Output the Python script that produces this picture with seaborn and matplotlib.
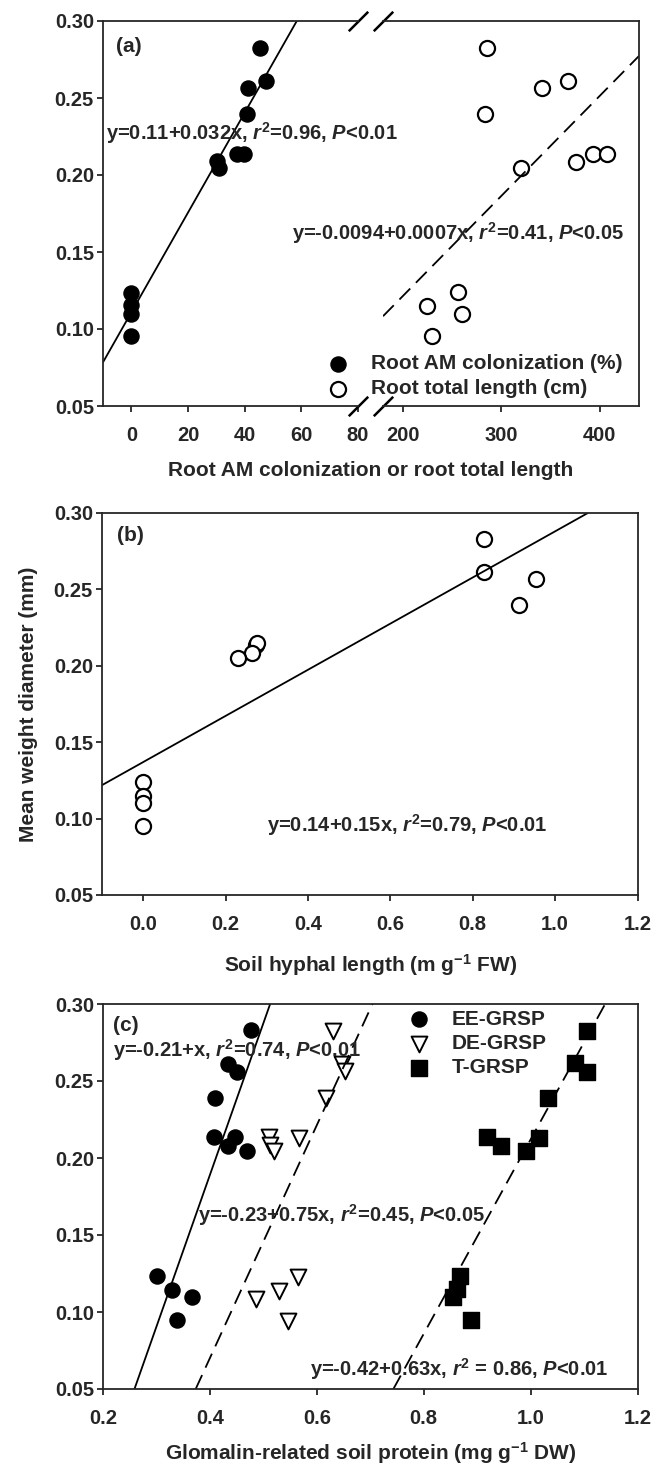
import pandas as pd
import matplotlib
matplotlib.use('Agg')
import matplotlib.pyplot as plt
import seaborn as sns

sns.set_style('ticks')
plt.rcParams['font.family'] = ['Liberation Sans', 'DejaVu Sans']
plt.rcParams['font.weight'] = 'bold'
plt.rcParams['axes.labelweight'] = 'bold'
plt.rcParams['mathtext.fontset'] = 'custom'
plt.rcParams['mathtext.rm'] = 'Liberation Sans:bold'
plt.rcParams['mathtext.it'] = 'Liberation Sans:italic:bold'
plt.rcParams['mathtext.bf'] = 'Liberation Sans:bold'

# ---- panel (a): root AM colonization (%) and root total length (cm)
am_col = [45.4, 47.6, 41.0, 40.7, 39.9, 37.4, 30.4, 31.1, 0, 0, 0, 0]
am_mwd = [0.2827, 0.2613, 0.2563, 0.2394, 0.2139, 0.2134, 0.2090, 0.2043, 0.1236, 0.1156, 0.1100, 0.0957]
root_len = [285.4, 367.7, 341.4, 284.1, 393.2, 407.6, 376.2, 319.7, 256.1, 224.6, 259.9, 230.1]
root_mwd = [0.2827, 0.2613, 0.2563, 0.2396, 0.2136, 0.2134, 0.2082, 0.2043, 0.1238, 0.1152, 0.1100, 0.0957]
fit_am = (0.1108, 0.00324)      # intercept, slope as drawn
fit_len = (-0.0087, 0.00065)

# ---- panel (b): soil hyphal length
hyphal = [0.827, 0.827, 0.954, 0.913, 0.274, 0.276, 0.263, 0.2305, 0, 0, 0, 0]
hyphal_mwd = [0.2830, 0.2615, 0.2567, 0.2398, 0.2139, 0.2148, 0.2083, 0.2050, 0.1239, 0.1148, 0.1104, 0.0952]
fit_hyphal = (0.137, 0.151)

# ---- panel (c): glomalin-related soil protein
ee = [0.477, 0.433, 0.450, 0.409, 0.407, 0.447, 0.433, 0.469, 0.3016, 0.3297, 0.3656, 0.339]
ee_mwd = [0.2830, 0.2609, 0.2561, 0.2391, 0.2135, 0.2135, 0.2076, 0.2048, 0.1235, 0.1146, 0.1098, 0.0950]
de = [0.630, 0.647, 0.653, 0.618, 0.510, 0.566, 0.5125, 0.520, 0.564, 0.530, 0.486, 0.547]
de_mwd = [0.2822, 0.2613, 0.2565, 0.2391, 0.2135, 0.2130, 0.2087, 0.2043, 0.1228, 0.1135, 0.1087, 0.0939]
tg = [1.106, 1.083, 1.106, 1.032, 0.919, 1.015, 0.945, 0.991, 0.868, 0.862, 0.854, 0.889]
tg_mwd = [0.2826, 0.2615, 0.2559, 0.2391, 0.2135, 0.2130, 0.2080, 0.2043, 0.1235, 0.1148, 0.1098, 0.0950]
fit_ee = (-0.205, 0.985)
fit_de = (-0.2323, 0.756)
fit_tg = (-0.419, 0.631)

y_ticks = [0.05, 0.10, 0.15, 0.20, 0.25, 0.30]

W, H = 654, 1468
fig = plt.figure(figsize=(W / 100, H / 100), dpi=100)


def box(l, t, r, b):
    return [l / W, 1 - b / H, (r - l) / W, (b - t) / H]


ax_al = fig.add_axes(box(103, 21, 358, 406))
ax_ar = fig.add_axes(box(383, 21, 639, 406))
ax_b = fig.add_axes(box(102, 513, 637.5, 895))
ax_c = fig.add_axes(box(103, 1004, 637.5, 1389))

MS = 118
DASH = (0, (8.5, 4.5))
TXT = 14.5   # annotations
LAB = 15     # axis labels / legends
TICK = 14.5


def style(ax):
    for sp in ax.spines.values():
        sp.set_linewidth(1.3)
    ax.tick_params(direction='out', length=4.5, width=1.3, labelsize=TICK, pad=2)
    ax.tick_params(axis='x', pad=10)
    ax.set_ylim(0.05, 0.30)
    ax.set_yticks(y_ticks)
    ax.set_yticklabels([f'{v:.2f}' for v in y_ticks])
    ax.set_xlabel('')
    ax.set_ylabel('')


# panel (a)
df_am = pd.DataFrame({'x': am_col, 'y': am_mwd})
df_len = pd.DataFrame({'x': root_len, 'y': root_mwd})
sns.scatterplot(data=df_am, x='x', y='y', ax=ax_al, color='black', edgecolor='black',
                s=MS, linewidth=1, label='Root AM colonization (%)', legend=False)
sns.scatterplot(data=df_len, x='x', y='y', ax=ax_ar, color='white', edgecolor='black',
                s=MS, linewidth=1.6, label='Root total length (cm)', legend=False)
ax_al.axline((0, fit_am[0]), slope=fit_am[1], color='black', lw=1.3)
ax_ar.axline((0, fit_len[0]), slope=fit_len[1], color='black', lw=1.3, linestyle=DASH)
ax_al.set_xlim(-10, 80)
ax_ar.set_xlim(180, 440)
style(ax_al)
style(ax_ar)
ax_al.set_xticks([0, 20, 40, 60, 80])
ax_ar.set_xticks([200, 300, 400])
ax_al.spines['right'].set_visible(False)
ax_ar.spines['left'].set_visible(False)
ax_ar.tick_params(left=False, labelleft=False)
ax_ar.patch.set_visible(False)

brk = dict(marker=[(-1, -1), (1, 1)], markersize=14, linestyle='none',
           color='black', mec='black', mew=1.8, clip_on=False)
ax_al.plot([1, 1], [0, 1], transform=ax_al.transAxes, **brk)
ax_ar.plot([0, 0], [0, 1], transform=ax_ar.transAxes, **brk)

ax_al.text(-5.3, 0.2833, '(a)', fontsize=LAB, va='center')
ax_al.text(-9.0, 0.227, r'y=0.11+0.032x, $\mathit{r}^{\mathbf{2}}$=0.96, $\mathit{P}$<0.01',
           fontsize=TXT, va='center')
ax_ar.text(424.6, 0.162, r'y=-0.0094+0.0007x, $\mathit{r}^{\mathbf{2}}$=0.41, $\mathit{P}$<0.05',
           fontsize=TXT, va='center', ha='right')
handles = ax_al.collections[:1] + ax_ar.collections[:1]
ax_al.legend(handles, [h.get_label() for h in handles], loc='lower left',
             bbox_to_anchor=(0.88, 0.02), frameon=False, fontsize=LAB,
             handlelength=1.0, handletextpad=1.1, labelspacing=0.3, borderpad=0,
             borderaxespad=0)
fig.text(371 / W, 1 - 470 / H, 'Root AM colonization or root total length',
         fontsize=LAB, ha='center', va='center')

# panel (b)
df_b = pd.DataFrame({'x': hyphal, 'y': hyphal_mwd})
sns.scatterplot(data=df_b, x='x', y='y', ax=ax_b, color='white', edgecolor='black',
                s=MS, linewidth=1.6, legend=False)
ax_b.axline((0, fit_hyphal[0]), slope=fit_hyphal[1], color='black', lw=1.3)
ax_b.set_xlim(-0.1, 1.2)
style(ax_b)
ax_b.set_xticks([0.0, 0.2, 0.4, 0.6, 0.8, 1.0, 1.2])
ax_b.set_xticklabels(['0.0', '0.2', '0.4', '0.6', '0.8', '1.0', '1.2'])
ax_b.text(-0.064, 0.2854, '(b)', fontsize=LAB, va='center')
ax_b.text(0.3015, 0.0957, r'y=0.14+0.15x, $\mathit{r}^{\mathbf{2}}$=0.79, $\mathit{P}$<0.01',
          fontsize=TXT, va='center')
fig.text(29 / W, 1 - 704 / H, 'Mean weight diameter (mm)', fontsize=LAB,
         rotation=90, ha='center', va='center')
fig.text(371 / W, 1 - 965 / H, r'Soil hyphal length (m g$^{\mathbf{-1}}$ FW)',
         fontsize=LAB, ha='center', va='center')

# panel (c)
df_ee = pd.DataFrame({'x': ee, 'y': ee_mwd})
df_de = pd.DataFrame({'x': de, 'y': de_mwd})
df_tg = pd.DataFrame({'x': tg, 'y': tg_mwd})
sns.scatterplot(data=df_ee, x='x', y='y', ax=ax_c, color='black', edgecolor='black',
                s=MS, linewidth=1, marker='o', label='EE-GRSP', legend=False)
sns.scatterplot(data=df_de, x='x', y='y', ax=ax_c, color='white', edgecolor='black',
                s=MS * 1.1, linewidth=1.4, marker='v', label='DE-GRSP', legend=False)
sns.scatterplot(data=df_tg, x='x', y='y', ax=ax_c, color='black', edgecolor='black',
                s=MS, linewidth=1, marker='s', label='T-GRSP', legend=False)
ax_c.axline((0, fit_ee[0]), slope=fit_ee[1], color='black', lw=1.3)
ax_c.axline((0, fit_de[0]), slope=fit_de[1], color='black', lw=1.3, linestyle=DASH)
ax_c.axline((0, fit_tg[0]), slope=fit_tg[1], color='black', lw=1.3, linestyle=DASH)
ax_c.set_xlim(0.2, 1.2)
style(ax_c)
ax_c.set_xticks([0.2, 0.4, 0.6, 0.8, 1.0, 1.2])
ax_c.set_xticklabels(['0.2', '0.4', '0.6', '0.8', '1.0', '1.2'])
ax_c.text(0.2195, 0.2859, '(c)', fontsize=LAB, va='center')
ax_c.text(0.2195, 0.270, r'y=-0.21+x, $\mathit{r}^{\mathbf{2}}$=0.74, $\mathit{P}$<0.01',
          fontsize=TXT, va='center')
ax_c.text(0.378, 0.163, r'y=-0.23+0.75x, $\mathit{r}^{\mathbf{2}}$=0.45, $\mathit{P}$<0.05',
          fontsize=TXT, va='center')
ax_c.text(0.587, 0.063, r'y=-0.42+0.63x, $\mathit{r}^{\mathbf{2}}$ = 0.86, $\mathit{P}$<0.01',
          fontsize=TXT, va='center')
ax_c.legend(loc='upper left', bbox_to_anchor=(0.571, 0.985), frameon=False, fontsize=LAB,
            handlelength=1.0, handletextpad=1.1, labelspacing=0.25, borderpad=0,
            borderaxespad=0)
fig.text(371 / W, 1 - 1453 / H, r'Glomalin-related soil protein (mg g$^{\mathbf{-1}}$ DW)',
         fontsize=LAB, ha='center', va='center')

fig.savefig('out.png', dpi=100)
